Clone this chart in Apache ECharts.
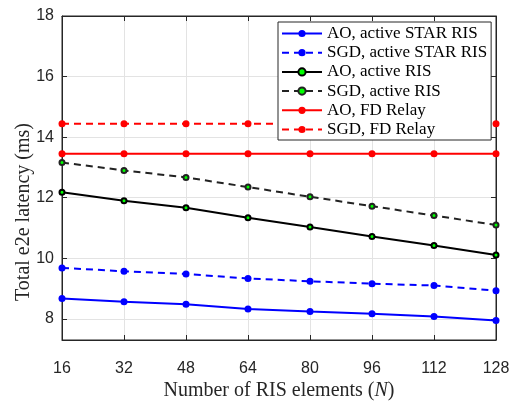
<!DOCTYPE html>
<html style="height: 100%">
<head>
    <meta charset="utf-8">
</head>
<body style="height: 100%; margin: 0; background: #fff">
<div id="container" style="width: 516px; height: 402px"></div>
<script src="https://cdn.jsdelivr.net/npm/echarts@6/dist/echarts.min.js"></script>
<script type="text/javascript">
    // number of RIS elements
    var N = [16, 32, 48, 64, 80, 96, 112, 128];
    // total e2e latency (ms)
    var aoStar = [8.67, 8.56, 8.48, 8.32, 8.24, 8.17, 8.08, 7.94];
    var sgdStar = [9.68, 9.57, 9.48, 9.33, 9.24, 9.16, 9.10, 8.93];
    var aoRis = [12.18, 11.90, 11.67, 11.34, 11.03, 10.72, 10.42, 10.11];
    var sgdRis = [13.16, 12.90, 12.67, 12.35, 12.03, 11.72, 11.41, 11.10];
    var aoRelay = [13.45, 13.45, 13.45, 13.45, 13.45, 13.45, 13.45, 13.45];
    var sgdRelay = [14.44, 14.44, 14.44, 14.44, 14.44, 14.44, 14.44, 14.44];

    var names = ['AO, active STAR RIS', 'SGD, active STAR RIS', 'AO, active RIS',
        'SGD, active RIS', 'AO, FD Relay', 'SGD, FD Relay'];

    function pairs(ys) {
        return N.map(function (n, i) { return [n, ys[i]]; });
    }

    function mkSeries(name, ys, color, dashed, green) {
        return {
            name: name,
            type: 'line',
            data: pairs(ys),
            symbol: 'circle',
            symbolSize: green ? 5 : 7,
            lineStyle: { color: color, width: 2, type: dashed ? [7, 5] : 'solid' },
            itemStyle: green
                ? { color: '#00ff00', borderColor: color, borderWidth: 2 }
                : { color: color, borderWidth: 0 },
            emphasis: { disabled: true },
            animation: false
        };
    }

    var axisCol = '#262626';
    var dom = document.getElementById("container");
    var myChart = echarts.init(dom);

    var option = {
        backgroundColor: '#fff',
        grid: {
            left: 62, right: 20, top: 16, bottom: 62, show: true,
            borderColor: axisCol, borderWidth: 1, outerBoundsMode: 'none', containLabel: false
        },
        legend: {
            orient: 'vertical',
            left: 278, top: 22,
            padding: [3, 4, 2, 3],
            itemGap: 2.2,
            itemWidth: 40,
            itemHeight: 9,
            backgroundColor: '#fff',
            borderColor: axisCol,
            borderWidth: 1,
            borderRadius: 0,
            textStyle: { fontFamily: 'Liberation Serif', fontSize: 17, color: '#000' },
            data: names
        },
        xAxis: [{
            type: 'value', min: 16, max: 128, interval: 16,
            name: 'Number of RIS elements ({i|N})',
            nameLocation: 'middle', nameGap: 41, nameMoveOverlap: false,
            nameTextStyle: {
                fontFamily: 'Liberation Serif', fontSize: 20, color: axisCol,
                rich: { i: { fontFamily: 'Liberation Serif', fontSize: 20, fontStyle: 'italic', color: axisCol } }
            },
            axisLine: { lineStyle: { color: axisCol } },
            axisTick: { inside: true, length: 5, lineStyle: { color: axisCol } },
            axisLabel: { fontFamily: 'Liberation Sans', fontSize: 16, color: axisCol, margin: 21 },
            splitLine: { show: true, lineStyle: { color: '#e3e3e3' } }
        }, {
            type: 'value', min: 16, max: 128, interval: 16, position: 'top',
            axisLine: { lineStyle: { color: axisCol } },
            axisTick: { inside: true, length: 5, lineStyle: { color: axisCol } },
            axisLabel: { show: false }, splitLine: { show: false }
        }],
        yAxis: [{
            type: 'value', min: 7.3, max: 18, splitNumber: 5,
            name: 'Total e2e latency (ms)',
            nameLocation: 'middle', nameGap: 28, nameMoveOverlap: false,
            nameTextStyle: { fontFamily: 'Liberation Serif', fontSize: 20, color: axisCol, padding: [0, 68, 0, 0] },
            axisLine: { show: true, lineStyle: { color: axisCol } },
            axisTick: { show: true, inside: true, length: 5, lineStyle: { color: axisCol } },
            axisLabel: { fontFamily: 'Liberation Sans', fontSize: 16, color: axisCol, margin: 8, showMinLabel: false },
            splitLine: { show: true, lineStyle: { color: '#e3e3e3' } }
        }, {
            type: 'value', min: 7.3, max: 18, splitNumber: 5, position: 'right',
            axisLine: { show: true, lineStyle: { color: axisCol } },
            axisTick: { show: true, inside: true, length: 5, lineStyle: { color: axisCol } },
            axisLabel: { show: false }, splitLine: { show: false }
        }],
        series: [
            mkSeries(names[0], aoStar, '#0000ff', false, false),
            mkSeries(names[1], sgdStar, '#0000ff', true, false),
            mkSeries(names[2], aoRis, '#000000', false, true),
            mkSeries(names[3], sgdRis, '#222222', true, true),
            mkSeries(names[4], aoRelay, '#ff0000', false, false),
            mkSeries(names[5], sgdRelay, '#ff0000', true, false)
        ]
    };
    myChart.setOption(option);
</script>
</body>
</html>
